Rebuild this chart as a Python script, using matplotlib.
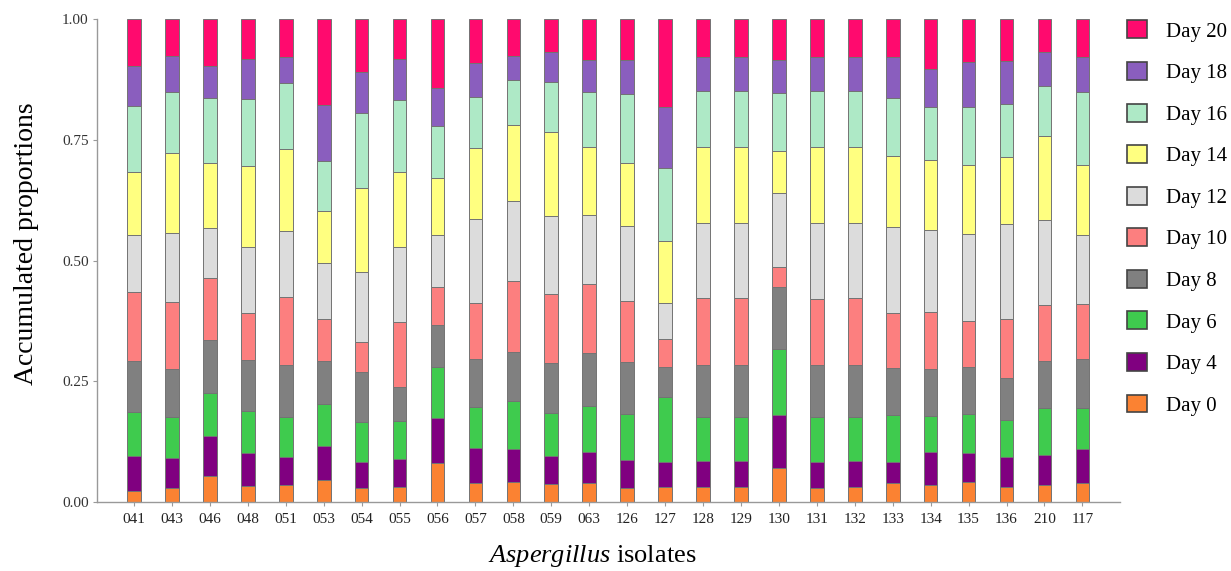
import numpy as np
import matplotlib
matplotlib.use('Agg')
import matplotlib.pyplot as plt

plt.rcParams['font.family'] = ['Liberation Serif', 'DejaVu Serif']
plt.rcParams['mathtext.fontset'] = 'custom'
plt.rcParams['mathtext.rm'] = 'Liberation Serif'
plt.rcParams['mathtext.it'] = 'Liberation Serif:italic'

isolates = ['041', '043', '046', '048', '051', '053', '054', '055', '056', '057',
            '058', '059', '063', '126', '127', '128', '129', '130', '131', '132',
            '133', '134', '135', '136', '210', '117']

days = ['Day 0', 'Day 4', 'Day 6', 'Day 8', 'Day 10', 'Day 12',
        'Day 14', 'Day 16', 'Day 18', 'Day 20']

# accumulated proportion reached at each day (top of each band)
day0 = [0.023, 0.030, 0.053, 0.033, 0.035, 0.045, 0.028, 0.031, 0.081, 0.040,
        0.042, 0.038, 0.039, 0.030, 0.031, 0.031, 0.031, 0.071, 0.030, 0.031,
        0.039, 0.036, 0.042, 0.031, 0.035, 0.040]
day4 = [0.095, 0.091, 0.136, 0.102, 0.093, 0.116, 0.082, 0.089, 0.174, 0.111,
        0.109, 0.095, 0.104, 0.087, 0.082, 0.085, 0.085, 0.180, 0.083, 0.085,
        0.083, 0.104, 0.102, 0.093, 0.097, 0.109]
day6 = [0.187, 0.175, 0.226, 0.189, 0.175, 0.202, 0.165, 0.167, 0.280, 0.196,
        0.210, 0.185, 0.199, 0.182, 0.218, 0.176, 0.176, 0.316, 0.175, 0.176,
        0.181, 0.179, 0.182, 0.170, 0.194, 0.194]
day8 = [0.291, 0.276, 0.336, 0.294, 0.283, 0.292, 0.270, 0.239, 0.367, 0.296,
        0.311, 0.287, 0.309, 0.289, 0.279, 0.284, 0.284, 0.446, 0.283, 0.284,
        0.277, 0.275, 0.279, 0.256, 0.291, 0.296]
day10 = [0.434, 0.414, 0.464, 0.391, 0.424, 0.379, 0.332, 0.372, 0.446, 0.412,
         0.457, 0.431, 0.451, 0.417, 0.337, 0.422, 0.422, 0.486, 0.421, 0.422,
         0.392, 0.394, 0.374, 0.379, 0.408, 0.410]
day12 = [0.552, 0.558, 0.567, 0.529, 0.562, 0.495, 0.476, 0.528, 0.552, 0.586,
         0.624, 0.592, 0.594, 0.571, 0.412, 0.578, 0.578, 0.639, 0.577, 0.578,
         0.570, 0.564, 0.554, 0.576, 0.583, 0.552]
day14 = [0.684, 0.723, 0.702, 0.696, 0.731, 0.603, 0.651, 0.684, 0.670, 0.732,
         0.781, 0.767, 0.736, 0.702, 0.540, 0.734, 0.734, 0.727, 0.734, 0.734,
         0.716, 0.709, 0.697, 0.714, 0.758, 0.697]
day16 = [0.820, 0.848, 0.837, 0.834, 0.867, 0.706, 0.805, 0.832, 0.779, 0.839,
         0.874, 0.870, 0.848, 0.844, 0.692, 0.850, 0.850, 0.846, 0.850, 0.850,
         0.836, 0.817, 0.818, 0.825, 0.862, 0.849]
day18 = [0.902, 0.924, 0.903, 0.917, 0.922, 0.822, 0.891, 0.918, 0.857, 0.909,
         0.924, 0.931, 0.916, 0.916, 0.818, 0.922, 0.922, 0.916, 0.922, 0.922,
         0.922, 0.896, 0.910, 0.913, 0.931, 0.922]
day20 = [1.0] * 26

colors = ['#FB8232', '#800080', '#3FCB4E', '#808080', '#FC7F7F',
          '#DCDCDC', '#FFFF80', '#AEE9C6', '#8A5EBE', '#FF0A6E']

cum = np.array([day0, day4, day6, day8, day10, day12, day14, day16, day18, day20])

fig = plt.figure(figsize=(12.31, 5.71), dpi=100)
ax = fig.add_axes([0.0788, 0.1208, 0.8310, 0.8459])

x = np.arange(len(isolates))
handles = []
bottom = np.zeros(len(isolates))
for k in range(len(days)):
    h = ax.bar(x, cum[k] - bottom, 0.36, bottom=bottom, color=colors[k],
               edgecolor='#737373', linewidth=0.7, label=days[k])
    handles.append(h)
    bottom = cum[k]

ax.set_xlim(-0.975, 25.99)
ax.set_ylim(0, 1)
ax.set_xticks(x)
ax.set_xticklabels(isolates, fontsize=11, color='#222222')
ax.set_yticks([0, 0.25, 0.5, 0.75, 1.0])
ax.set_yticklabels(['0.00', '0.25', '0.50', '0.75', '1.00'], fontsize=11, color='#333333')
ax.tick_params(axis='both', length=3, width=0.8, color='#999999', pad=3)
ax.tick_params(axis='x', pad=5)
for s in ['top', 'right']:
    ax.spines[s].set_visible(False)
for s in ['left', 'bottom']:
    ax.spines[s].set_color('#999999')
    ax.spines[s].set_linewidth(1.0)

ax.set_ylabel('Accumulated proportions', fontsize=20)
ax.yaxis.set_label_coords(-0.057, 0.535)
ax.set_xlabel(r'$\mathit{Aspergillus}$ isolates', fontsize=19)
ax.xaxis.set_label_coords(0.484, -0.085)

leg = fig.legend(handles[::-1], days[::-1], loc='upper left',
                 bbox_to_anchor=(0.9005, 0.997), frameon=False, fontsize=15,
                 handlelength=0.95, handleheight=0.95, labelspacing=0.98,
                 handletextpad=0.9)
for p in leg.get_patches():
    p.set_edgecolor('#444444')
    p.set_linewidth(1.2)

fig.savefig('out.png', dpi=100)
